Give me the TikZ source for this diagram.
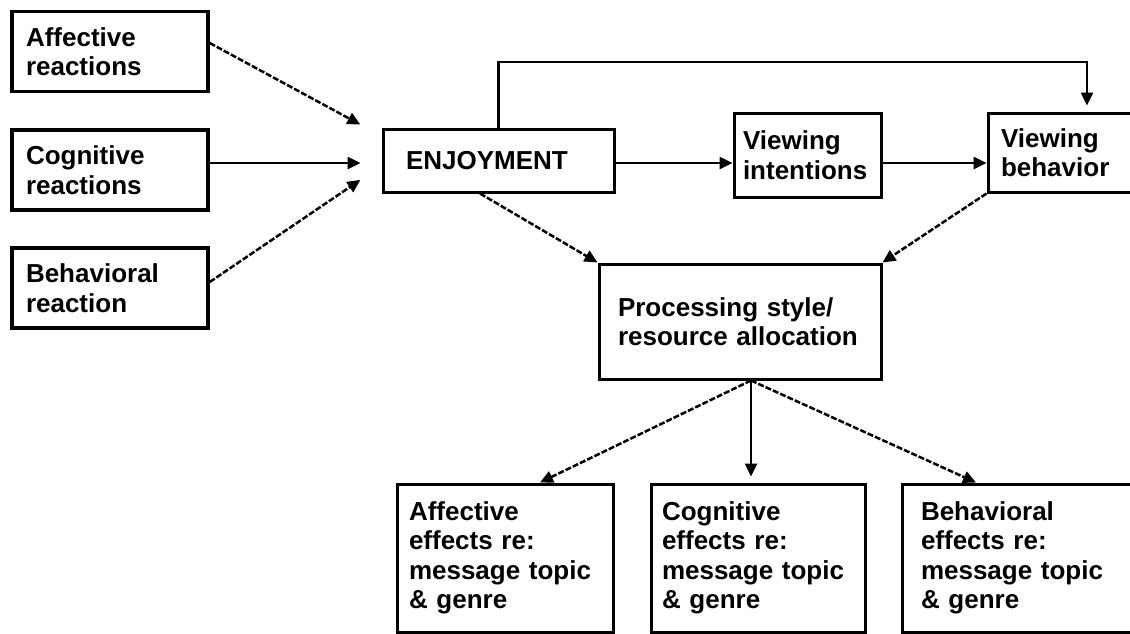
\documentclass[tikz,border=0pt]{standalone}
\usepackage{fontspec}
\setmainfont{Liberation Sans}
\usetikzlibrary{arrows.meta}
\begin{document}
\begin{tikzpicture}[x=1pt,y=-1pt,
  box/.style={draw, line width=3pt, rectangle, align=left, inner ysep=0pt,
    font=\fontsize{26}{29.5}\selectfont\bfseries},
  lbox/.style={box, line width=3.4pt, minimum width=196pt, minimum height=80pt, text width=168pt, inner xsep=14pt},
  ebox/.style={box, minimum height=148pt},
  conn/.style={line width=2.5pt, -{Triangle[length=13pt,width=12pt]}},
  dconn/.style={conn, dash pattern=on 6pt off 2pt}]
\useasboundingbox (0,0) rectangle (1130,633);

\node[lbox] (ar) at (110,51.5) {Affective\\reactions};
\node[lbox] (cr) at (110,170) {Cognitive\\reactions};
\node[lbox] (br) at (110,288) {Behavioral\\reaction};

\node[box, minimum width=231pt, minimum height=63pt, text width=185pt, inner xsep=23pt] (enj) at (498.5,160.5) {ENJOYMENT};
\node[box, minimum width=147pt, minimum height=84pt, text width=129pt, inner xsep=9pt] (vi) at (807.5,155) {Viewing\\intentions};
\node[box, minimum width=152pt, minimum height=79pt, text width=126pt, inner xsep=13pt] (vb) at (1064,152.5) {Viewing\\behavior};

\node[box, minimum width=282pt, minimum height=115pt, text width=244pt, inner xsep=19pt] (proc) at (740,321.5) {Processing style/\\resource allocation};

\node[ebox, minimum width=216pt, text width=192pt, inner xsep=12pt] (ae) at (505,558) {Affective\\effects re:\\message topic\\\& genre};
\node[ebox, minimum width=214pt, text width=192pt, inner xsep=11pt] (ce) at (758,558) {Cognitive\\effects re:\\message topic\\\& genre};
\node[ebox, minimum width=238pt, text width=200pt, inner xsep=19pt] (be) at (1021,558) {Behavioral\\effects re:\\message topic\\\& genre};

\draw[dconn, shorten >=24pt] (ar.east |- 0,43) -- (enj.west |- 0,136);
\draw[conn, shorten >=21pt] (cr.east |- 0,163) -- (enj.west |- 0,163);
\draw[dconn, shorten >=25.5pt] (br.east |- 0,282) -- (enj.west |- 0,165.6);

\draw[conn] (enj.east |- 0,163) -- (vi.west |- 0,163);
\draw[conn] (vi.east |- 0,163) -- (vb.west |- 0,163);
\draw[conn, shorten >=6pt] (enj.north) |- (1087,62) -- (vb.north -| 1087,0);

\draw[dconn] (enj.south -| 480,0) -- (proc.north west);
\draw[dconn] (vb.south west) -- (proc.north east);

\draw[dconn] (proc.south -| 751,0) -- (ae.north -| 540,0);
\draw[conn, shorten >=6pt] (proc.south -| 751,0) -- (ce.north -| 751,0);
\draw[dconn] (proc.south -| 751,0) -- (be.north -| 976,0);
\end{tikzpicture}
\end{document}
